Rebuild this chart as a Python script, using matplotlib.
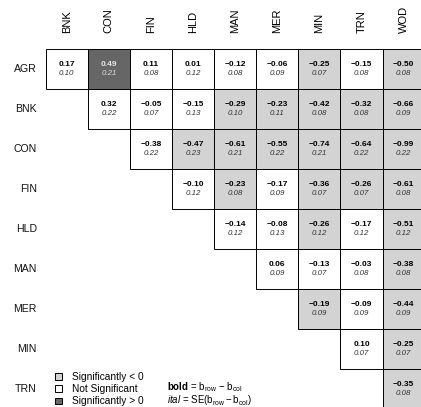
import matplotlib
matplotlib.use("Agg")
import matplotlib.pyplot as plt
from matplotlib.patches import Rectangle, Patch

plt.rcParams["font.family"] = ["Liberation Sans", "DejaVu Sans"]
plt.rcParams["mathtext.fontset"] = "custom"
plt.rcParams["mathtext.rm"] = "Liberation Sans"
plt.rcParams["mathtext.it"] = "Liberation Sans:italic"
plt.rcParams["mathtext.bf"] = "Liberation Sans:bold"

row_names = ["AGR", "BNK", "CON", "FIN", "HLD", "MAN", "MER", "MIN", "TRN"]
col_names = ["BNK", "CON", "FIN", "HLD", "MAN", "MER", "MIN", "TRN", "WOD"]

# Pairwise differences b_row - b_col (upper triangle, row i starts at column i)
diff = [
    [0.17, 0.49, 0.11, 0.01, -0.12, -0.06, -0.25, -0.15, -0.50],
    [0.32, -0.05, -0.15, -0.29, -0.23, -0.42, -0.32, -0.66],
    [-0.38, -0.47, -0.61, -0.55, -0.74, -0.64, -0.99],
    [-0.10, -0.23, -0.17, -0.36, -0.26, -0.61],
    [-0.14, -0.08, -0.26, -0.17, -0.51],
    [0.06, -0.13, -0.03, -0.38],
    [-0.19, -0.09, -0.44],
    [0.10, -0.25],
    [-0.35],
]
# Standard errors of the differences
se = [
    [0.10, 0.21, 0.08, 0.12, 0.08, 0.09, 0.07, 0.08, 0.08],
    [0.22, 0.07, 0.13, 0.10, 0.11, 0.08, 0.08, 0.09],
    [0.22, 0.23, 0.21, 0.22, 0.21, 0.22, 0.22],
    [0.12, 0.08, 0.09, 0.07, 0.07, 0.08],
    [0.12, 0.13, 0.12, 0.12, 0.12],
    [0.09, 0.07, 0.08, 0.08],
    [0.09, 0.09, 0.09],
    [0.07, 0.07],
    [0.08],
]
# Significance: -1 significantly < 0, 0 not significant, 1 significantly > 0
signif = [
    [0, 1, 0, 0, 0, 0, -1, 0, -1],
    [0, 0, 0, -1, -1, -1, -1, -1],
    [0, -1, -1, -1, -1, -1, -1],
    [0, -1, 0, -1, -1, -1],
    [0, 0, -1, 0, -1],
    [0, 0, 0, -1],
    [-1, 0, -1],
    [0, -1],
    [-1],
]

fill = {-1: "#d3d3d3", 0: "#ffffff", 1: "#666666"}
bold_color = {-1: "#000000", 0: "#000000", 1: "#e6e6e6"}
ital_color = {-1: "#333333", 0: "#333333", 1: "#dddddd"}

W, H = 421, 407
fig = plt.figure(figsize=(W / 100, H / 100), dpi=100)

# grid geometry in pixels
x0, cw = 45.7, 42.1
y0, rh = 49.3, 40.0
ax = fig.add_axes([x0 / W, 1 - (y0 + 9 * rh) / H, 9 * cw / W, 9 * rh / H])
ax.set_xlim(0, 9)
ax.set_ylim(9, 0)
ax.axis("off")


def fmt(v):
    s = f"{abs(v):.2f}"
    return ("\u2212" + s) if v < 0 else s


for i, rname in enumerate(row_names):
    for k, (d, s, g) in enumerate(zip(diff[i], se[i], signif[i])):
        j = i + k
        ax.add_patch(Rectangle((j, i), 1, 1, facecolor=fill[g], edgecolor="black",
                               linewidth=0.7, clip_on=False))
        ax.text(j + 0.5, i + 0.5 - 0.11, fmt(d), ha="center", va="center",
                fontsize=6.0, fontweight="bold", color=bold_color[g], clip_on=False)
        ax.text(j + 0.5, i + 0.5 + 0.11, fmt(s), ha="center", va="center",
                fontsize=5.7, fontstyle="italic", color=ital_color[g], clip_on=False)
    ax.text(-0.21, i + 0.5, rname, ha="right", va="center", fontsize=7.6,
            color="#111111", clip_on=False)

for j, cname in enumerate(col_names):
    ax.text(j + 0.5, -0.41, cname, ha="center", va="bottom", rotation=90,
            fontsize=8, clip_on=False)

handles = [Patch(facecolor=fill[-1], edgecolor="black", linewidth=0.7),
           Patch(facecolor=fill[0], edgecolor="black", linewidth=0.7),
           Patch(facecolor=fill[1], edgecolor="black", linewidth=0.7)]
labels = ["Significantly < 0", "Not Significant", "Significantly > 0"]
fig.legend(handles, labels, loc="upper left", bbox_to_anchor=(55 / W, 1 - 372 / H),
           frameon=False, fontsize=7.3, handlelength=0.65, handleheight=0.65,
           handletextpad=1.0, labelspacing=0.22, borderpad=0, borderaxespad=0)

# key for the two numbers printed in each cell
key_text = (r"$\mathbf{bold}$ = b$_{\mathrm{row}}$ $-$ b$_{\mathrm{col}}$" "\n"
            r"$\mathit{ital}$ = SE$\left(\mathrm{b}_{\mathrm{row}}-\mathrm{b}_{\mathrm{col}}\right)$")
fig.text(166.7 / W, 1 - 393.6 / H, key_text, ha="left", va="center",
         fontsize=7.0, linespacing=0.95)

fig.savefig("out.png", dpi=100)
